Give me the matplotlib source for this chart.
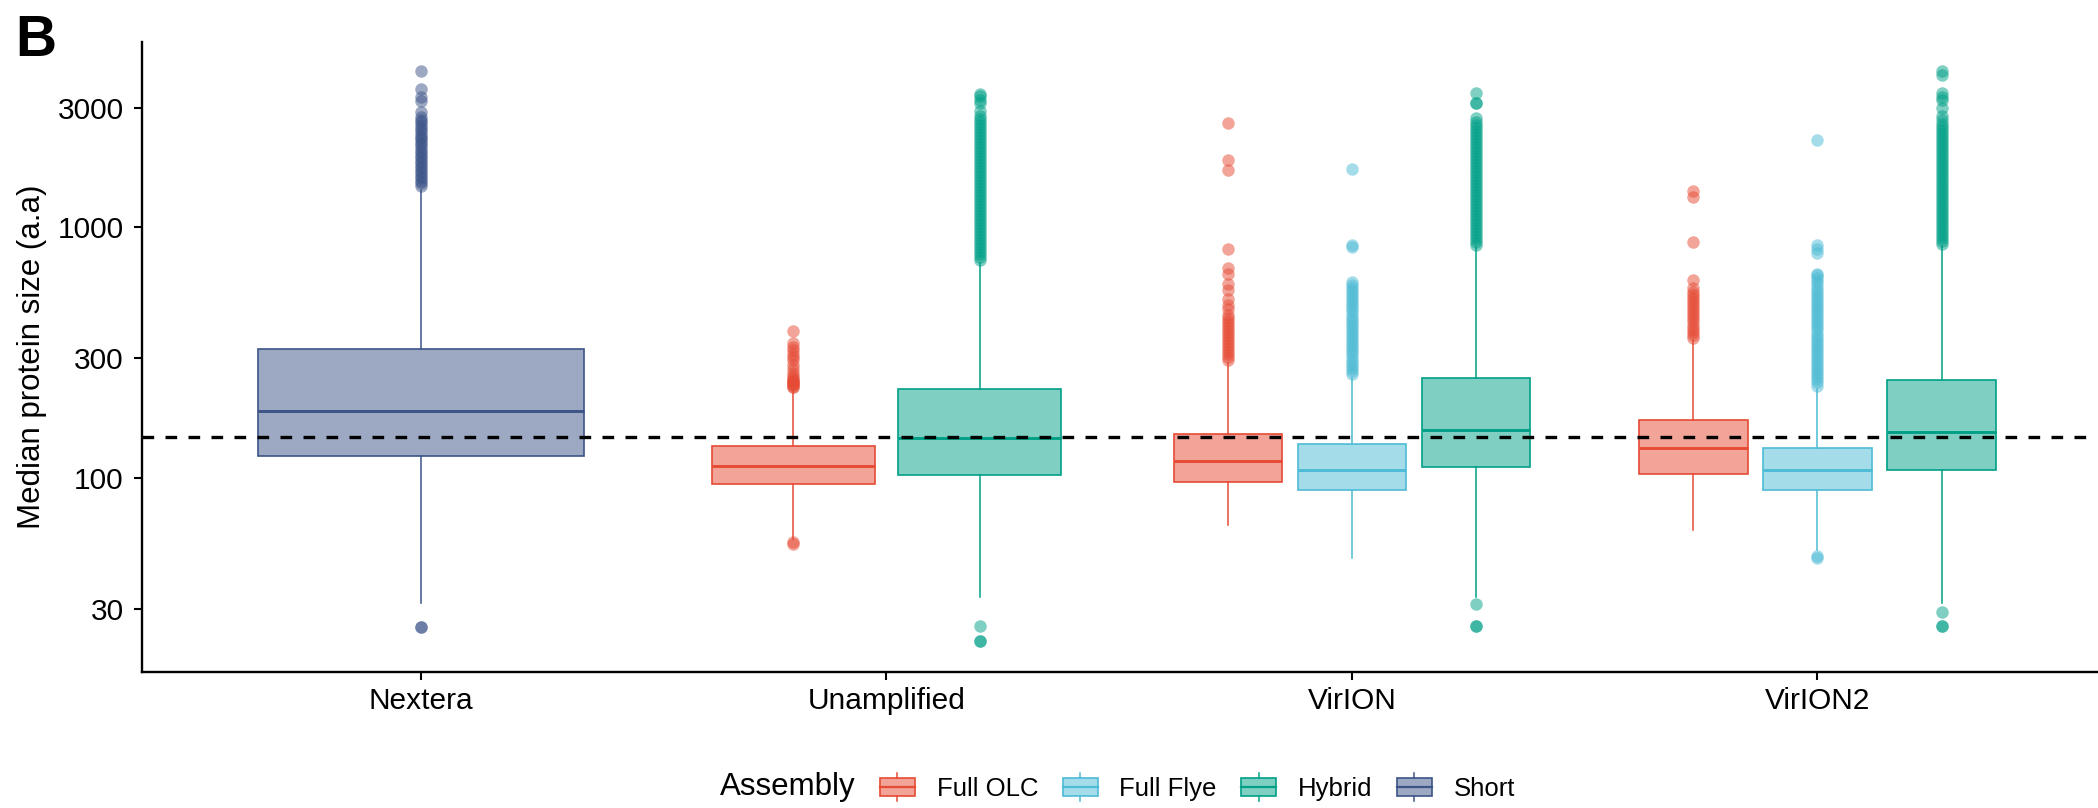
import matplotlib
matplotlib.use("Agg")
import matplotlib.pyplot as plt
from matplotlib.patches import Rectangle, Patch
from matplotlib.lines import Line2D
from matplotlib.legend_handler import HandlerBase
from matplotlib.colors import to_rgba

plt.rcParams['font.family'] = ['Liberation Sans', 'DejaVu Sans']

# ---------------- data ----------------
categories = ["Nextera", "Unamplified", "VirION", "VirION2"]
assemblies = ["Full OLC", "Full Flye", "Hybrid", "Short"]
palette = ["#E64B35", "#4DBBD5", "#00A087", "#3C5488"]

box_category = ["Nextera", "Unamplified", "Unamplified", "VirION", "VirION", "VirION",
                "VirION2", "VirION2", "VirION2"]
box_assembly = ["Short", "Full OLC", "Hybrid", "Full OLC", "Full Flye", "Hybrid",
                "Full OLC", "Full Flye", "Hybrid"]
q1 = [122.1, 94.4, 102.5, 96.4, 89.3, 110.6, 103.1, 89.3, 107.3]
median = [184.6, 111.4, 144.5, 116.6, 107.6, 155.5, 131.0, 107.3, 152.6]
q3 = [326.6, 133.8, 226.0, 149.8, 136.7, 250.0, 169.9, 131.0, 246.0]
whisker_low = [31.5, 57.0, 33.3, 65.0, 48.0, 33.4, 62.0, 51.6, 31.5]
whisker_high = [1410, 224, 720, 288, 250, 830, 355, 226, 845]

outliers_nextera_short = [25.3, 25.3,
                          1460, 1495, 1530, 1565, 1600, 1640, 1680, 1720, 1760, 1800, 1840,
                          1885, 1930, 1975, 2020, 2070, 2120, 2170, 2220, 2270, 2320, 2380,
                          2440, 2500, 2560, 2620, 2680, 2750, 2890, 3200, 3320, 3550, 4200]
outliers_unamp_olc = [54.5, 55.2,
                      230, 231, 234, 236, 238, 241, 243, 246, 249, 255, 262, 271, 282, 294,
                      303, 312, 322, 332, 345, 386]
outliers_unamp_hybrid = [25.5, 22.3, 22.3,
                         740, 760, 781, 803, 826, 849, 873, 897, 922, 948, 975, 1002, 1030,
                         1059, 1089, 1120, 1151, 1183, 1216, 1250, 1285, 1321, 1358, 1396,
                         1435, 1475, 1516, 1558, 1602, 1647, 1693, 1740, 1789, 1839, 1890,
                         1943, 1998, 2054, 2111, 2170, 2231, 2293, 2357, 2423, 2491, 2560,
                         2632, 2700, 2780, 2900, 3120, 3230, 3330, 3400]
outliers_virion_olc = [294, 302, 311, 320, 329, 338, 348, 358, 368, 378, 389, 400, 412, 424,
                       436, 445, 471, 490, 518, 560, 592, 651, 690, 819, 1689, 1858, 2618]
outliers_virion_flye = [260, 267, 275, 283, 291, 299, 308, 317, 326, 335, 345, 355, 365, 375,
                        386, 397, 408, 420, 432, 444, 457, 470, 483, 497, 511, 526, 541, 556,
                        572, 588, 604, 830, 851, 1709]
outliers_virion_hybrid = [31.3, 25.6, 25.6,
                          850, 874, 898, 923, 949, 976, 1003, 1031, 1060, 1090, 1120, 1152,
                          1184, 1217, 1251, 1286, 1322, 1359, 1397, 1436, 1477, 1518, 1561,
                          1604, 1649, 1696, 1743, 1792, 1842, 1894, 1947, 2002, 2058, 2115,
                          2175, 2236, 2298, 2362, 2429, 2497, 2567, 2639, 2718, 3143, 3143,
                          3420]
outliers_virion2_olc = [362, 372, 383, 394, 405, 417, 429, 441, 454, 467, 480, 494, 508, 523,
                        538, 553, 570, 615, 874, 1318, 1396]
outliers_virion2_flye = [48.9, 47.9,
                         233, 240, 247, 254, 261, 268, 276, 284, 292, 300, 309, 318, 327, 336,
                         346, 356, 366, 376, 387, 398, 410, 421, 433, 446, 458, 471, 485, 499,
                         513, 528, 543, 558, 574, 591, 608, 625, 643, 651, 787, 820, 850, 2220]
outliers_virion2_hybrid = [29.2, 25.5, 25.5,
                           855, 879, 904, 929, 955, 982, 1010, 1038, 1067, 1097, 1128, 1160,
                           1193, 1226, 1261, 1296, 1333, 1370, 1409, 1448, 1489, 1531, 1574,
                           1618, 1664, 1711, 1759, 1808, 1859, 1912, 1965, 2021, 2078, 2136,
                           2196, 2258, 2322, 2387, 2454, 2523, 2594, 2667, 2772, 2992, 3225,
                           3300, 3420, 4055, 4216]
box_outliers = [outliers_nextera_short, outliers_unamp_olc, outliers_unamp_hybrid,
                outliers_virion_olc, outliers_virion_flye, outliers_virion_hybrid,
                outliers_virion2_olc, outliers_virion2_flye, outliers_virion2_hybrid]

reference_line = 146
y_ticks = [30, 100, 300, 1000, 3000]
y_label = "Median protein size (a.a)"
legend_title = "Assembly"

# ---------------- figure ----------------
W, H = 2098, 808
fig = plt.figure(figsize=(W / 100, H / 100), dpi=100)
ax = fig.add_axes([141.7 / W, 1 - 671.7 / H, (2096.7 - 141.7) / W, (671.7 - 42.4) / H])

color_of = dict(zip(assemblies, palette))
dodge_width, box_width = 0.8, 0.7

for k in range(len(box_category)):
    cat = box_category[k]
    members = [i for i in range(len(box_category)) if box_category[i] == cat]
    n = len(members)
    j = members.index(k)
    pos = categories.index(cat) + (j - (n - 1) / 2) * dodge_width / n
    c = color_of[box_assembly[k]]
    stats = [dict(med=median[k], q1=q1[k], q3=q3[k], whislo=whisker_low[k],
                  whishi=whisker_high[k], fliers=box_outliers[k])]
    ax.bxp(stats, positions=[pos], widths=[box_width / n], patch_artist=True,
           showcaps=False, manage_ticks=False,
           boxprops=dict(facecolor=to_rgba(c, 0.5), edgecolor=c, linewidth=1.2),
           medianprops=dict(color=c, linewidth=2.1, solid_capstyle='butt'),
           whiskerprops=dict(color=c, linewidth=1.1),
           flierprops=dict(marker='o', markerfacecolor=to_rgba(c, 0.5),
                           markeredgecolor='none', markersize=9.0, linestyle='none'))

ax.axhline(reference_line, color='black', linewidth=2.4, linestyle=(0, (3.5, 3.4)), zorder=6)

ax.set_yscale('log')
ax.set_ylim(16.81, 5467)
ax.set_xlim(-0.6, len(categories) - 0.4)
ax.set_yticks(y_ticks)
ax.set_yticklabels([str(t) for t in y_ticks])
ax.yaxis.set_minor_locator(matplotlib.ticker.NullLocator())
ax.set_xticks(range(len(categories)))
ax.set_xticklabels(categories)

for s in ['top', 'right']:
    ax.spines[s].set_visible(False)
for s in ['left', 'bottom']:
    ax.spines[s].set_linewidth(1.7)
ax.tick_params(axis='both', length=6, width=1.5, labelsize=21.5, colors='black')
ax.tick_params(axis='y', pad=7)
ax.tick_params(axis='x', pad=5)

ax.set_ylabel(y_label, fontsize=22.5, va='center')
ax.yaxis.set_label_coords((31.7 - 141.7) / (2096.7 - 141.7), 0.5)

fig.text(15 / W, 1 - 55.8 / H, "B", fontsize=41, fontweight='bold', ha='left', va='baseline')


class BoxHandler(HandlerBase):
    def create_artists(self, legend, orig_handle, xdescent, ydescent, width, height,
                       fontsize, trans):
        c = orig_handle.get_edgecolor()
        x0, y0 = -xdescent, -ydescent
        cx = x0 + width / 2
        lo, hi = y0 + 0.17 * height, y0 + 0.83 * height
        w1 = Line2D([cx, cx], [y0, lo], color=c, lw=1.1, transform=trans)
        w2 = Line2D([cx, cx], [hi, y0 + height], color=c, lw=1.1, transform=trans)
        rect = Rectangle((x0, lo), width, hi - lo, facecolor=orig_handle.get_facecolor(),
                         edgecolor=c, linewidth=1.2, transform=trans)
        med = Line2D([x0, x0 + width], [y0 + 0.5 * height] * 2, color=c, lw=1.6,
                     transform=trans)
        return [w1, w2, rect, med]


handles = [Patch(facecolor=to_rgba(c, 0.5), edgecolor=c) for c in palette]
fig.legend(handles, assemblies, loc='center left', bbox_to_anchor=(880 / W, 1 - 787 / H),
           bbox_transform=fig.transFigure, ncol=4, frameon=False, fontsize=18.5,
           handlelength=1.36, handleheight=1.3, handletextpad=0.85, columnspacing=0.95,
           borderpad=0, borderaxespad=0, handler_map={Patch: BoxHandler()})
fig.text(720 / W, 1 - 787 / H, legend_title, fontsize=22.5, ha='left', va='center')

fig.savefig("out.png", dpi=100)
